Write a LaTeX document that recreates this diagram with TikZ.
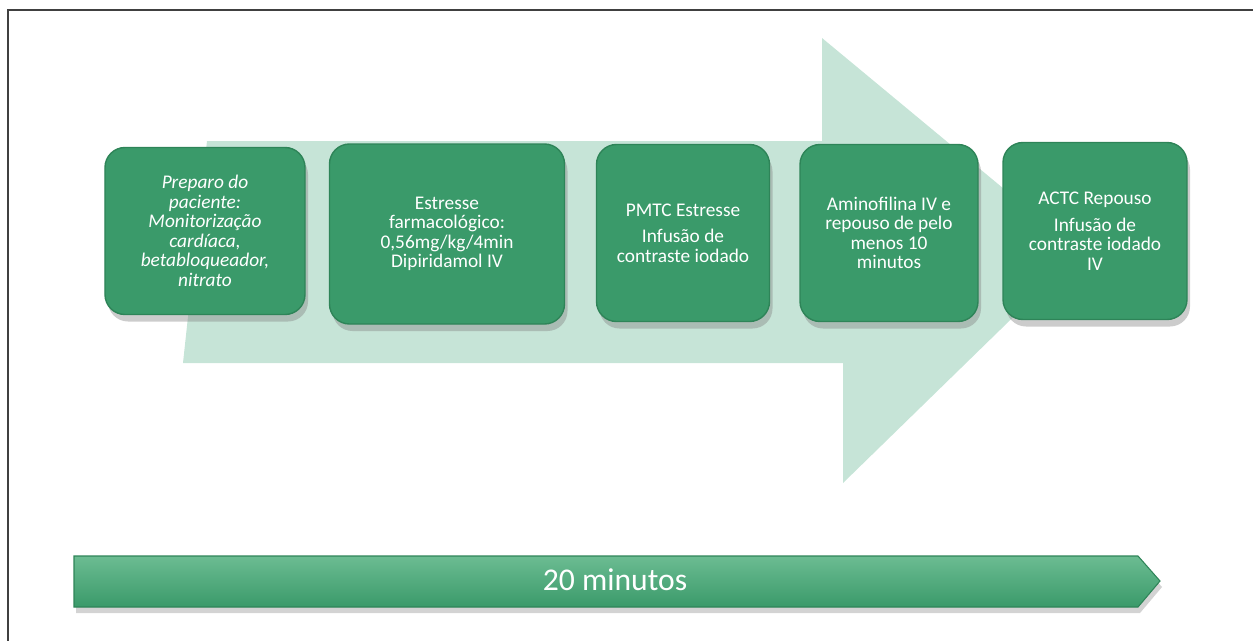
\documentclass[tikz,border=0pt]{standalone}
\usepackage{fontspec}
\setmainfont{Carlito}
\usetikzlibrary{shadows}
\definecolor{verdeetapa}{RGB}{58,154,106}
\definecolor{verdeborda}{RGB}{46,132,88}
\definecolor{verdeclaro}{RGB}{108,188,146}
\definecolor{menta}{RGB}{198,228,215}
\tikzset{
  etapa/.style={rectangle, rounded corners=4mm, draw=verdeborda, line width=0.8pt, fill=verdeetapa,
                text=white, align=center, font=\fontsize{11}{11.1}\selectfont,
                drop shadow={shadow xshift=0.6mm, shadow yshift=-1.4mm, opacity=0.4}},
  setafundo/.style={fill=menta, draw=none},
  setatempo/.style={draw=verdeborda, line width=0.6pt, top color=verdeclaro, bottom color=verdeetapa,
                    drop shadow={shadow xshift=0.4mm, shadow yshift=-1.2mm, opacity=0.35}},
}

\begin{document}
\begin{tikzpicture}[x=0.2mm, y=-0.2mm]
\useasboundingbox (0,0) rectangle (1253,640);
\draw[black!75, line width=0.6pt] (1262,10) -- (8,10) -- (8,650);
% seta de fundo
\fill[setafundo] (207,141) -- (822,141) -- (822,38) -- (1080,252) -- (843,483) -- (843,363) -- (183,363) -- cycle;
% etapas
\node[etapa, minimum width=40mm, minimum height=33.4mm] (e1) at (205,231) {\itshape Preparo do\\\itshape paciente:\\\itshape Monitorização\\\itshape cardíaca,\\\itshape betabloqueador,\\\itshape nitrato};
\node[etapa, minimum width=47mm, minimum height=36mm] (e2) at (447,234) {Estresse\\farmacológico:\\0,56mg/kg/4min\\Dipiridamol IV};
\node[etapa, minimum width=34.6mm, minimum height=35.4mm] (e3) at (683,233) {PMTC Estresse\\[4pt]Infusão de\\contraste iodado};
\node[etapa, minimum width=35.6mm, minimum height=35.4mm] (e4) at (889,233) {Aminofilina IV e\\repouso de pelo\\menos 10\\minutos};
\node[etapa, minimum width=36.8mm, minimum height=35.4mm] (e5) at (1095,231) {ACTC Repouso\\[4pt]Infusão de\\contraste iodado\\IV};
% tempo total
\path[setatempo] (74,556) -- (1138,556) -- (1160,581) -- (1138,607) -- (74,607) -- cycle;
\node[text=white, font=\fontsize{18}{20}\selectfont] (tempo) at (615,580) {20 minutos};
\end{tikzpicture}
\end{document}
